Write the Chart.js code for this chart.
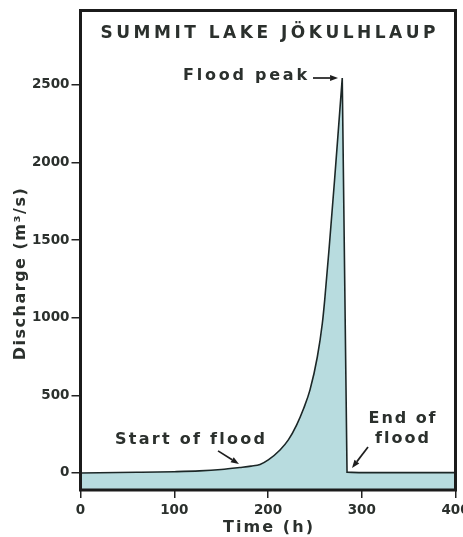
<!DOCTYPE html>
<html>
<head>
<meta charset="utf-8">
<script src="https://cdn.jsdelivr.net/npm/chart.js@4.4.1/dist/chart.umd.min.js"></script>
<style>
  html, body { margin: 0; padding: 0; background: #ffffff; }
  #wrap { width: 463px; height: 537px; }
</style>
</head>
<body>
<div id="wrap"><canvas id="c" width="463" height="537"></canvas></div>
<script>
// Hydrograph of the Summit Lake outburst flood
const hours     = [0, 60, 100, 127, 150, 170, 182, 191.5, 200.3, 212.8, 221.7, 230.6, 238, 244.8, 252.6, 258, 260.5, 265.3, 271, 279.2, 284.3, 300, 400];
const discharge = [0, 4, 8, 13, 22, 35, 44, 55, 84, 148, 213, 310, 415, 535, 747, 966, 1115, 1456, 1888, 2545, 5, 2, 2];

const xTicks = [0, 100, 200, 300, 400];
const yTicks = [0, 500, 1000, 1500, 2000, 2500];
const xRange = [0, 400];
const yRange = [-110, 2980];

const titleText = 'SUMMIT LAKE JÖKULHLAUP';
const xTitle = 'Time (h)';
const yTitle = 'Discharge (m³/s)';

// Callout labels, anchored in data units (hours, m³/s)
const noteLines = [['Flood peak'], ['Start of flood'], ['End of', 'flood']];
const noteHours = [175.5, 116.8, 343];
const noteLevels = [[2558], [213], [348, 219]];
const noteWidths = [[124], [150], [67, 54]];

// Arrows: [tail hour, tail level, tip hour, tip level]
const arrows = [
  [248, 2545, 274.7, 2545],
  [146.7, 142, 169, 58],
  [306.7, 167, 289.6, 32]
];

const INK = '#2b302d';
const FRAME = '#1b1b1b';
const FONT = '"DejaVu Sans", Verdana, sans-serif';

function drawTracked(ctx, text, cx, cy, width, font) {
  ctx.font = font;
  const chars = [...text];
  const w = chars.map(ch => ctx.measureText(ch).width);
  const natural = w.reduce((a, b) => a + b, 0);
  const gap = chars.length > 1 ? (width - natural) / (chars.length - 1) : 0;
  let x = cx - width / 2;
  ctx.textAlign = 'left';
  ctx.textBaseline = 'middle';
  chars.forEach((ch, i) => { ctx.fillText(ch, x, cy); x += w[i] + gap; });
}

function drawArrow(ctx, x1, y1, x2, y2) {
  const ang = Math.atan2(y2 - y1, x2 - x1);
  const len = 8, half = 3;
  const bx = x2 - len * Math.cos(ang), by = y2 - len * Math.sin(ang);
  ctx.beginPath();
  ctx.moveTo(x1, y1);
  ctx.lineTo(bx, by);
  ctx.lineWidth = 1.7;
  ctx.strokeStyle = '#1e1e1e';
  ctx.stroke();
  ctx.beginPath();
  ctx.moveTo(x2, y2);
  ctx.lineTo(bx + half * Math.sin(ang), by - half * Math.cos(ang));
  ctx.lineTo(bx - half * Math.sin(ang), by + half * Math.cos(ang));
  ctx.closePath();
  ctx.fillStyle = '#1e1e1e';
  ctx.fill();
}

// The crest and the sudden recession are sharp: straighten the curve
// handles at the peak and at the foot of the drop.
const sharpCrest = {
  id: 'sharpCrest',
  afterDatasetsUpdate(chart) {
    const meta = chart.getDatasetMeta(0);
    const line = meta.dataset;
    line.updateControlPoints(chart.chartArea, 'x');
    const peak = discharge.indexOf(Math.max(...discharge));
    [peak, peak + 1].forEach(k => {
      const p = meta.data[k];
      p.cp1x = p.x; p.cp1y = p.y;
      p.cp2x = p.x; p.cp2y = p.y;
    });
  }
};

const decorations = {
  id: 'decorations',
  afterDatasetsDraw(chart) {
    const { ctx, chartArea: a, scales: { x, y } } = chart;
    ctx.save();
    // frame around the plot
    ctx.lineWidth = 3;
    ctx.strokeStyle = FRAME;
    ctx.strokeRect(a.left, a.top, a.right - a.left, a.bottom - a.top);

    ctx.fillStyle = INK;
    // heading inside the frame
    drawTracked(ctx, titleText, (a.left + a.right) / 2, a.top + 23, 335, 'bold 17px ' + FONT);

    // callouts
    noteLines.forEach((lines, i) => {
      lines.forEach((t, j) => {
        ctx.fillStyle = INK;
        drawTracked(ctx, t, x.getPixelForValue(noteHours[i]), y.getPixelForValue(noteLevels[i][j]),
          noteWidths[i][j], 'bold 16px ' + FONT);
      });
    });
    arrows.forEach(([h1, v1, h2, v2]) => {
      drawArrow(ctx, x.getPixelForValue(h1), y.getPixelForValue(v1), x.getPixelForValue(h2), y.getPixelForValue(v2));
    });

    // axis titles
    ctx.fillStyle = INK;
    drawTracked(ctx, xTitle, (a.left + a.right) / 2, a.bottom + 38, 90, 'bold 16px ' + FONT);
    ctx.translate(21, (a.top + a.bottom) / 2 + 24);
    ctx.rotate(-Math.PI / 2);
    drawTracked(ctx, yTitle, 0, 0, 172, 'bold 16px ' + FONT);
    ctx.restore();
  }
};

new Chart(document.getElementById('c'), {
  type: 'line',
  data: {
    datasets: [{
      data: hours.map((h, i) => ({ x: h, y: discharge[i] })),
      borderColor: '#1c2727',
      borderWidth: 1.6,
      backgroundColor: '#b8dcdf',
      fill: 'start',
      pointRadius: 0,
      cubicInterpolationMode: 'monotone'
    }]
  },
  options: {
    responsive: false,
    animation: false,
    events: [],
    layout: { padding: { top: 10.5, right: 7.5, left: 0, bottom: 0 } },
    plugins: { legend: { display: false }, tooltip: { enabled: false }, title: { display: false } },
    scales: {
      x: {
        type: 'linear',
        min: xRange[0], max: xRange[1],
        afterBuildTicks: s => { s.ticks = xTicks.map(v => ({ value: v })); },
        afterFit: s => { s.height = 47; s.paddingLeft = 0; s.paddingRight = 0; },
        border: { display: false },
        grid: { drawOnChartArea: false, drawTicks: true, tickLength: 8, lineWidth: 1.5, color: '#222' },
        ticks: { color: INK, font: { family: FONT, size: 13.5, weight: 'bold' }, padding: 4, maxRotation: 0,
                 callback: v => String(v) }
      },
      y: {
        type: 'linear',
        min: yRange[0], max: yRange[1],
        afterBuildTicks: s => { s.ticks = yTicks.map(v => ({ value: v })); },
        afterFit: s => { s.width = 80.5; s.paddingTop = 0; s.paddingBottom = 0; },
        border: { display: false },
        grid: { drawOnChartArea: false, drawTicks: true, tickLength: 9, lineWidth: 1.5, color: '#222' },
        ticks: { color: INK, font: { family: FONT, size: 13.5, weight: 'bold' }, padding: 2,
                 callback: v => String(v) }
      }
    }
  },
  plugins: [sharpCrest, decorations]
});
</script>
</body>
</html>
